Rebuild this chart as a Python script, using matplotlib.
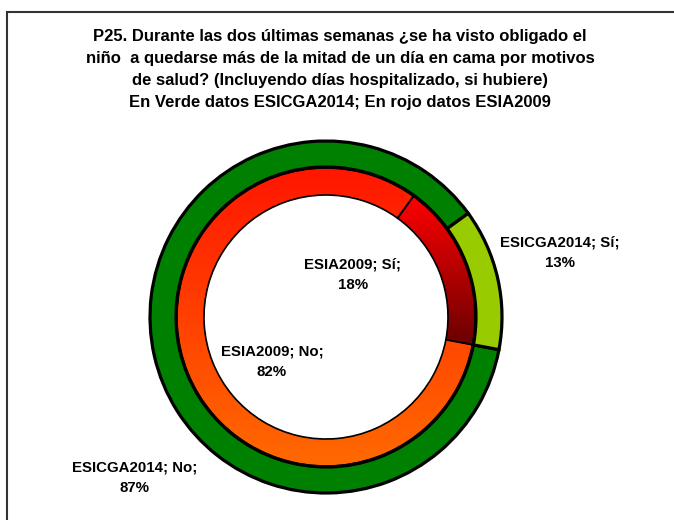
import matplotlib
matplotlib.use("Agg")
import matplotlib.pyplot as plt
import numpy as np
from matplotlib.colors import LinearSegmentedColormap
from matplotlib.patches import Rectangle

plt.rcParams["font.family"] = ["Liberation Sans", "DejaVu Sans"]

# ---- data ----
title_lines = [
    "P25. Durante las dos últimas semanas ¿se ha visto obligado el",
    "niño  a quedarse más de la mitad de un día en cama por motivos",
    "de salud? (Incluyendo días hospitalizado, si hubiere)",
    "En Verde datos ESICGA2014; En rojo datos ESIA2009",
]
categories = ["No", "Sí"]
esicga2014 = [87, 13]   # outer ring
esia2009 = [82, 18]     # inner ring

outer_colors = ["#008000", "#99cc00"]
inner_grads = [("#ff1600", "#ff6a00"), ("#ff0000", "#6a0000")]

W, H = 674, 520
cx, cy = 326, H - 317

fig = plt.figure(figsize=(W / 100, H / 100), dpi=100)
ax = fig.add_axes([0, 0, 1, 1])

# outer ring (2014)
outer, _ = ax.pie(esicga2014, radius=176, center=(cx, cy), startangle=-10.7,
                  counterclock=False, colors=outer_colors,
                  wedgeprops=dict(width=26, edgecolor="black", linewidth=2.3))

# inner ring (2009) with vertical gradients
inner, _ = ax.pie(esia2009, radius=149, center=(cx, cy), startangle=-10.7,
                  counterclock=False, colors=["white", "white"],
                  wedgeprops=dict(width=27, edgecolor="black", linewidth=1.2))

for w, (c_top, c_bot) in zip(inner, inner_grads):
    verts = w.get_path().vertices
    x0, x1 = verts[:, 0].min(), verts[:, 0].max()
    y0, y1 = verts[:, 1].min(), verts[:, 1].max()
    cmap = LinearSegmentedColormap.from_list("g", [c_top, c_bot])
    grad = np.linspace(0, 1, 256).reshape(-1, 1)
    im = ax.imshow(grad, cmap=cmap, extent=(x0, x1, y0, y1), origin="upper",
                   aspect="auto", zorder=w.get_zorder() - 0.1, interpolation="bilinear")
    im.set_clip_path(w)
    w.set_facecolor("none")

# labels
lab = dict(ha="center", va="center", fontsize=10.8, fontweight="bold", linespacing=1.6)
ax.text(353, H - 275, f"ESIA2009; {categories[1]};\n{esia2009[1]}%", **lab)
ax.text(272, H - 362, f"ESIA2009; {categories[0]};\n{esia2009[0]}%", **lab)
ax.text(560, H - 253, f"ESICGA2014; {categories[1]};\n{esicga2014[1]}%", **lab)
ax.text(135, H - 478, f"ESICGA2014; {categories[0]};\n{esicga2014[0]}%", **lab)

# title
for i, line in enumerate(title_lines):
    ax.text(340, H - 37 - 22 * i, line, ha="center", va="center",
            fontsize=12, fontweight="bold")

# chart frame
ax.add_patch(Rectangle((7, -10), W, H - 12 + 10, fill=False,
                       edgecolor="#333333", linewidth=1.5))

ax.set_xlim(0, W)
ax.set_ylim(0, H)
ax.set_aspect("equal")
ax.axis("off")

fig.savefig("out.png", dpi=100)
